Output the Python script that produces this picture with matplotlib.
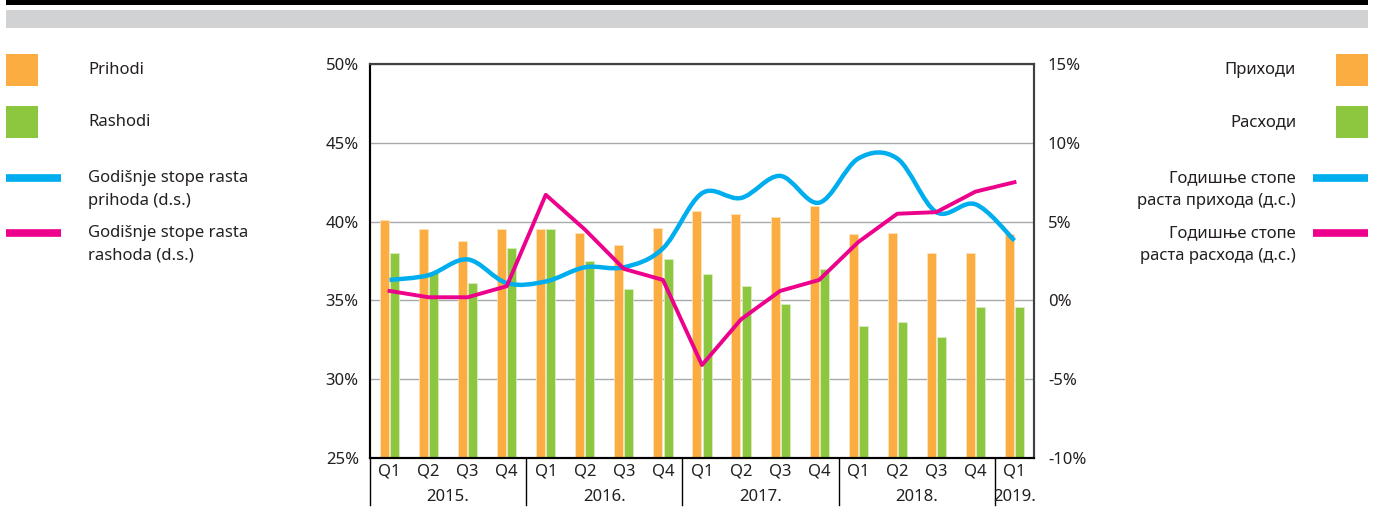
import matplotlib
matplotlib.use("Agg")
import matplotlib.pyplot as plt
import matplotlib.transforms as mtransforms
from matplotlib.path import Path
from matplotlib.patches import PathPatch, Rectangle
from matplotlib.lines import Line2D
from matplotlib.ticker import FuncFormatter

plt.rcParams['font.family'] = ['Noto Sans', 'DejaVu Sans']

# ---- data ----
quarters = ["Q1", "Q2", "Q3", "Q4"] * 4 + ["Q1"]
years = ["2015.", "2016.", "2017.", "2018.", "2019."]
year_sizes = [4, 4, 4, 4, 1]

# share of GDP, left axis (%)
prihodi = [40.1, 39.5, 38.8, 39.5, 39.5, 39.3, 38.5, 39.6,
           40.7, 40.5, 40.3, 41.0, 39.2, 39.3, 38.0, 38.0, 39.2]
rashodi = [38.0, 36.8, 36.1, 38.3, 39.5, 37.5, 35.7, 37.6,
           36.7, 35.9, 34.8, 37.0, 33.4, 33.6, 32.7, 34.6, 34.6]

# annual growth rates, right axis (%)
rast_prihoda = [1.3, 1.6, 2.6, 1.1, 1.2, 2.1, 2.1, 3.3,
                6.8, 6.5, 7.9, 6.2, 9.0, 9.0, 5.6, 6.1, 3.8]
rast_rashoda = [0.6, 0.2, 0.2, 0.9, 6.7, 4.5, 2.0, 1.3,
                -4.1, -1.2, 0.6, 1.3, 3.7, 5.5, 5.6, 6.9, 7.5]

# ---- style ----
C_ORANGE = "#FBAD41"
C_GREEN = "#8DC63F"
C_BLUE = "#00AEEF"
C_MAGENTA = "#EC008C"
C_TEXT = "#231F20"
FS = 12

W, H = 1381, 518
fig = plt.figure(figsize=(W / 100, H / 100), dpi=100)


def fx(px):
    return px / W


def fy(py):
    return 1 - py / H


# header bars
fig.add_artist(Rectangle((fx(6), fy(5)), fx(1362), 5 / H, transform=fig.transFigure,
                         facecolor="black", edgecolor="none"))
fig.add_artist(Rectangle((fx(6), fy(28)), fx(1362), 18 / H, transform=fig.transFigure,
                         facecolor="#D1D2D4", edgecolor="none"))

ax = fig.add_axes([fx(370), fy(458), fx(664), 394 / H])
ax2 = ax.twinx()

n = len(prihodi)
x = list(range(n))
bw = 0.23
ax.bar([i - 0.13 for i in x], [v - 25 for v in prihodi], bw, bottom=25,
       color=C_ORANGE, edgecolor="#FDE3BD", linewidth=0.6, zorder=2)
ax.bar([i + 0.13 for i in x], [v - 25 for v in rashodi], bw, bottom=25,
       color=C_GREEN, edgecolor="#D9EDBF", linewidth=0.6, zorder=2)

ax.set_xlim(-0.5, n - 0.5)
ax.set_ylim(25, 50)
ax.set_yticks([25, 30, 35, 40, 45, 50])
ax.yaxis.set_major_formatter(FuncFormatter(lambda v, p: f"{v:.0f}%"))
ax.grid(axis="y", color="#A7A9AC", linewidth=1.0, zorder=0)
ax.set_axisbelow(True)
ax.tick_params(axis="y", length=0, pad=8, labelsize=FS, labelcolor=C_TEXT)
ax.set_xticks(x)
ax.set_xticklabels(quarters)
ax.tick_params(axis="x", length=0, pad=4, labelsize=FS, labelcolor=C_TEXT)

ax2.set_ylim(-10, 15)
ax2.set_yticks([-10, -5, 0, 5, 10, 15])
ax2.yaxis.set_major_formatter(FuncFormatter(lambda v, p: f"{v:.0f}%"))
ax2.tick_params(axis="y", length=0, pad=10, labelsize=FS, labelcolor=C_TEXT)

for a in (ax, ax2):
    a.spines["left"].set_color("black")
    a.spines["bottom"].set_color("black")
    a.spines["top"].set_color("#414042")
    a.spines["right"].set_color("#414042")
    for s in a.spines.values():
        s.set_linewidth(1.5)


# smoothed revenue growth line (cardinal spline as cubic Bezier segments)
def smooth_path(xs, ys):
    pts = list(zip(xs, ys))
    verts = [pts[0]]
    codes = [Path.MOVETO]
    for i in range(len(pts) - 1):
        p0 = pts[i - 1] if i > 0 else pts[i]
        p1 = pts[i]
        p2 = pts[i + 1]
        p3 = pts[i + 2] if i + 2 < len(pts) else pts[i + 1]
        c1 = (p1[0] + (p2[0] - p0[0]) / 6, p1[1] + (p2[1] - p0[1]) / 6)
        c2 = (p2[0] - (p3[0] - p1[0]) / 6, p2[1] - (p3[1] - p1[1]) / 6)
        verts += [c1, c2, p2]
        codes += [Path.CURVE4] * 3
    return Path(verts, codes)


ax2.add_patch(PathPatch(smooth_path(x, rast_prihoda), facecolor="none",
                        edgecolor=C_BLUE, linewidth=3.2, capstyle="butt", zorder=4))
ax2.plot(x, rast_rashoda, color=C_MAGENTA, linewidth=2.8, zorder=5)

# year group separators and labels under the axis
trans = mtransforms.blended_transform_factory(ax.transData, ax.transAxes)
start = 0
for label, size in zip(years, year_sizes):
    ax.plot([start - 0.5, start - 0.5], [0, -0.12], transform=trans, color="black",
            linewidth=1.0, clip_on=False)
    ax.text(start + (size - 1) / 2, -0.098, label, transform=trans, ha="center", va="center",
            fontsize=FS, color=C_TEXT)
    start += size

# legends on both sides
left_items = [("patch", C_ORANGE, ["Prihodi"], 70),
              ("patch", C_GREEN, ["Rashodi"], 122),
              ("line", C_BLUE, ["Godišnje stope rasta", "prihoda (d.s.)"], 178),
              ("line", C_MAGENTA, ["Godišnje stope rasta", "rashoda (d.s.)"], 233)]
right_items = [("patch", C_ORANGE, ["Приходи"], 70),
               ("patch", C_GREEN, ["Расходи"], 122),
               ("line", C_BLUE, ["Годишње стопе", "раста прихода (д.с.)"], 178),
               ("line", C_MAGENTA, ["Годишње стопе", "раста расхода (д.с.)"], 233)]

for kind, color, lines, yc in left_items:
    if kind == "patch":
        fig.add_artist(Rectangle((fx(6), fy(yc + 16)), fx(32), 32 / H,
                                 transform=fig.transFigure, facecolor=color, edgecolor="none"))
    else:
        fig.add_artist(Line2D([fx(6), fx(61)], [fy(yc), fy(yc)], transform=fig.transFigure,
                              color=color, linewidth=5.5, solid_capstyle="butt"))
    for k, t in enumerate(lines):
        fig.text(fx(88), fy(yc + 23 * k), t, ha="left", va="center", fontsize=FS, color=C_TEXT)

for kind, color, lines, yc in right_items:
    if kind == "patch":
        fig.add_artist(Rectangle((fx(1336), fy(yc + 16)), fx(32), 32 / H,
                                 transform=fig.transFigure, facecolor=color, edgecolor="none"))
    else:
        fig.add_artist(Line2D([fx(1313), fx(1368)], [fy(yc), fy(yc)], transform=fig.transFigure,
                              color=color, linewidth=5.5, solid_capstyle="butt"))
    for k, t in enumerate(lines):
        fig.text(fx(1296), fy(yc + 23 * k), t, ha="right", va="center", fontsize=FS, color=C_TEXT)

fig.savefig("out.png", dpi=100)
